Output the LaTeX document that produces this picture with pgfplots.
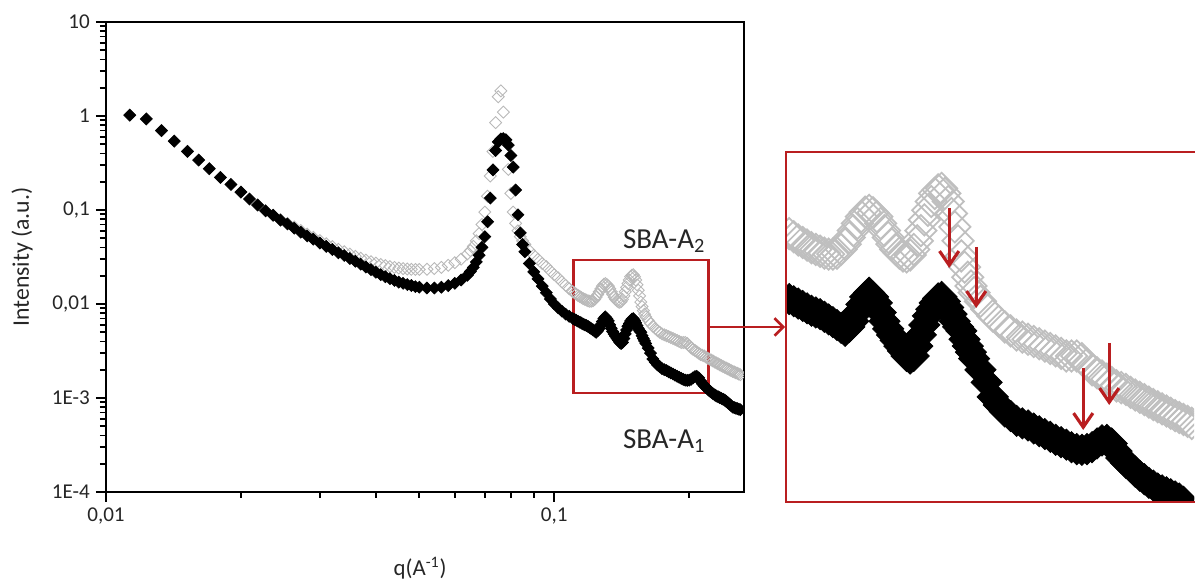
\documentclass[border=0pt]{standalone}
\usepackage{pgfplots}
\pgfplotsset{compat=1.18}
\usepackage{pgfplotstable}
\usetikzlibrary{arrows.meta}
\usepackage{fontspec}
\setmainfont{Carlito}
\definecolor{dred}{RGB}{185,30,32}

\pgfplotstableread{
q a1 a2
0.0113 1.02 1.02
0.0123 0.93 0.93
0.0133 0.70 0.70
0.0142 0.54 0.54
0.0152 0.42 0.42
0.0161 0.34 0.34
0.0170 0.275 0.275
0.0180 0.222 0.222
0.0190 0.187 0.187
0.0200 0.155 0.155
0.0209 0.131 0.131
0.0218 0.113 0.113
0.0227 0.098 0.098
0.0236 0.088 0.088
0.0245 0.078 0.079
0.0254 0.071 0.072
0.0263 0.064 0.066
0.0272 0.058 0.0605
0.0281 0.053 0.0555
0.0290 0.049 0.0512
0.0300 0.0445 0.0472
0.0310 0.041 0.0438
0.0320 0.038 0.0408
0.0330 0.035 0.0382
0.0340 0.0328 0.0360
0.0350 0.0305 0.0340
0.0360 0.0285 0.0322
0.0370 0.0265 0.0307
0.0380 0.0247 0.0293
0.0390 0.0232 0.0282
0.0400 0.0218 0.0272
0.0410 0.0205 0.0263
0.0420 0.0195 0.0256
0.0430 0.0186 0.0250
0.0440 0.0178 0.0245
0.0450 0.0171 0.0241
0.0460 0.0166 0.0238
0.0470 0.0161 0.0236
0.0480 0.0157 0.0234
0.0490 0.0153 0.0233
0.0500 0.0151 0.0233
0.0520 0.0148 0.0234
0.0540 0.0148 0.0238
0.0560 0.0151 0.0245
0.0580 0.0157 0.0258
0.0600 0.0166 0.0275
0.0620 0.0180 0.0300
0.0640 0.0202 0.0340
0.0650 0.0222 0.0370
0.0660 0.0245 0.0410
0.0670 0.0280 0.0470
0.0680 0.0330 0.0560
0.0690 0.0400 0.0700
0.0700 0.0520 0.0950
0.0710 0.0750 0.140
0.0720 0.134 0.230
0.0730 0.267 0.420
0.0740 0.430 0.850
0.0750 0.530 1.60
0.0760 0.570 1.85
0.0770 0.575 1.10
0.0780 0.560 0.550
0.0790 0.490 0.270
0.0800 0.380 0.150
0.0810 0.286 0.095
0.0820 0.163 0.072
0.0830 0.089 0.060
0.0840 0.057 0.052
0.0850 0.043 0.047
0.0860 0.036 0.043
0.0880 0.027 0.037
0.0900 0.0220 0.0330
0.0920 0.0185 0.0300
0.0940 0.0155 0.0270
0.0960 0.0132 0.0250
0.0980 0.0113 0.0225
0.1000 0.0100 0.0205
0.1020 0.0091 0.0190
0.1040 0.0084 0.0172
0.1060 0.0078 0.0158
0.1080 0.0074 0.0145
0.1100 0.0070 0.0135
0.1110 0.00685 0.0131
0.1120 0.0067 0.0127
0.1130 0.00655 0.0123
0.1140 0.0064 0.0120
0.1150 0.00625 0.0117
0.1160 0.0061 0.0114
0.1170 0.0060 0.0112
0.1180 0.0059 0.0110
0.1190 0.00575 0.0108
0.1200 0.0056 0.0107
0.1210 0.00545 0.0107
0.1220 0.0053 0.0108
0.1230 0.00515 0.0112
0.1240 0.0050 0.0118
0.1250 0.0052 0.0126
0.1260 0.0055 0.0135
0.1270 0.0060 0.0145
0.1280 0.0065 0.0155
0.1290 0.0070 0.0162
0.1300 0.0073 0.0165
0.1310 0.0070 0.0161
0.1320 0.0066 0.0155
0.1330 0.0060 0.0145
0.1340 0.0055 0.0135
0.1350 0.0051 0.0126
0.1360 0.0048 0.0118
0.1370 0.00455 0.0112
0.1380 0.0043 0.0108
0.1390 0.0041 0.0105
0.1400 0.0039 0.0104
0.1410 0.0038 0.0106
0.1420 0.0039 0.0112
0.1430 0.0043 0.0122
0.1440 0.0048 0.0135
0.1450 0.0053 0.0150
0.1460 0.0058 0.0165
0.1470 0.0062 0.0180
0.1480 0.0066 0.0195
0.1490 0.0069 0.0202
0.1500 0.0070 0.0205
0.1510 0.0067 0.0195
0.1520 0.0063 0.0180
0.1530 0.0059 0.0160
0.1540 0.0055 0.0140
0.1550 0.0052 0.0122
0.1560 0.0050 0.0105
0.1570 0.0046 0.0094
0.1580 0.0043 0.0085
0.1590 0.00405 0.0078
0.1600 0.0038 0.0073
0.1620 0.0034 0.0067
0.1640 0.0030 0.0062
0.1660 0.0026 0.0058
0.1680 0.0024 0.0055
0.1700 0.00225 0.0052
0.1720 0.00215 0.0050
0.1740 0.00205 0.0048
0.1760 0.0020 0.0047
0.1780 0.00196 0.0046
0.1800 0.0019 0.0045
0.1820 0.00185 0.0044
0.1840 0.0018 0.0043
0.1860 0.00175 0.0042
0.1880 0.0017 0.0041
0.1900 0.00166 0.0040
0.1920 0.00162 0.0039
0.1940 0.00158 0.0039
0.1960 0.00155 0.0039
0.1980 0.00154 0.0038
0.2000 0.00155 0.0036
0.2020 0.00158 0.0034
0.2040 0.00164 0.0033
0.2060 0.00169 0.0032
0.2080 0.00170 0.0031
0.2100 0.00164 0.0030
0.2120 0.00152 0.0029
0.2140 0.00142 0.00285
0.2160 0.00135 0.0028
0.2180 0.00130 0.00272
0.2200 0.00124 0.00265
0.2220 0.00119 0.00259
0.2240 0.00115 0.00253
0.2260 0.00111 0.00247
0.2280 0.00108 0.00241
0.2300 0.00105 0.00236
0.2320 0.00103 0.00231
0.2340 0.00101 0.00226
0.2360 0.00099 0.00221
0.2380 0.00097 0.00216
0.2400 0.00095 0.00212
0.2420 0.00092 0.00208
0.2440 0.00089 0.00204
0.2460 0.00086 0.00200
0.2480 0.00083 0.00196
0.2500 0.00080 0.00192
0.2520 0.00079 0.00189
0.2540 0.00078 0.00186
0.2560 0.00077 0.00183
0.2580 0.00076 0.00180
0.2600 0.00075 0.00177
}\datatab

\begin{document}
\begin{tikzpicture}
\useasboundingbox (0,0) rectangle (23.9cm,11.64cm);
% main axis
\begin{axis}[
  at={(2.12cm,1.8cm)}, anchor=south west,
  width=12.76cm, height=9.4cm, scale only axis,
  xmode=log, ymode=log,
  xmin=0.01, xmax=0.265, ymin=1e-4, ymax=10,
  clip marker paths=true,
  xtick={0.01,0.1}, xticklabels={{0,01},{0,1}},
  ytick={1e-4,1e-3,0.01,0.1,1,10},
  yticklabels={1E-4,1E-3,{0,01},{0,1},1,10},
  minor xtick={0.02,0.03,0.04,0.05,0.06,0.07,0.08,0.09,0.2},
  minor ytick={2e-4,3e-4,4e-4,5e-4,6e-4,7e-4,8e-4,9e-4,2e-3,3e-3,4e-3,5e-3,6e-3,7e-3,8e-3,9e-3,0.02,0.03,0.04,0.05,0.06,0.07,0.08,0.09,0.2,0.3,0.4,0.5,0.6,0.7,0.8,0.9,2,3,4,5,6,7,8,9},
  tick pos=left, tick align=outside,
  major tick length=0.2cm, minor tick length=0.12cm,
  axis line style={line width=1.3pt},
  every tick/.style={black, line width=1pt},
  /pgf/number format/assume math mode=true,
  ticklabel style={font=\fontsize{12}{14}\selectfont, text=black!85},
]
\draw[dred, line width=1.5pt] (axis cs:0.1103,0.00113) rectangle (axis cs:0.2208,0.0294);
\addplot[only marks, mark=square, mark size=2.4pt,
  mark options={rotate=45, draw=black!28, line width=0.5pt}] table[x=q,y=a2]{\datatab};
\addplot[only marks, mark=square*, mark size=2.4pt,
  mark options={rotate=45, draw=black, fill=black}] table[x=q,y=a1]{\datatab};
\end{axis}
% inset
\begin{axis}[
  at={(15.72cm,1.6cm)}, anchor=south west,
  width=8.16cm, height=7cm, scale only axis,
  xmode=log, ymode=log,
  xmin=0.1103, xmax=0.2471, ymin=0.000918, ymax=0.0294,
  clip marker paths=true,
  hide axis,
]
\addplot[only marks, mark=square, mark size=6.3pt,
  mark options={rotate=45, draw=black!25, line width=1pt}] table[x=q,y=a2]{\datatab};
\addplot[only marks, mark=square*, mark size=6.3pt,
  mark options={rotate=45, draw=black, fill=black}] table[x=q,y=a1]{\datatab};
\end{axis}
\begin{scope}[x=0.02cm,y=0.02cm]
\draw[dred, line width=1.5pt] (1196,80) -- (786,80) -- (786,430) -- (1196,430);
\draw[dred, line width=1.5pt, -{Straight Barb[length=5pt,width=10pt]}] (708,255) -- (785,255);
\draw[dred, line width=1.8pt, -{Straight Barb[length=8pt,width=11pt]}] (949,374) -- (949,314);
\draw[dred, line width=1.8pt, -{Straight Barb[length=8pt,width=11pt]}] (976,335) -- (976,274);
\draw[dred, line width=1.8pt, -{Straight Barb[length=8pt,width=11pt]}] (1083,214) -- (1083,152);
\draw[dred, line width=1.8pt, -{Straight Barb[length=8pt,width=11pt]}] (1109,239) -- (1109,177);
\node[font=\fontsize{16.5}{18}\selectfont, text=black!85] at (664,341) {SBA-A\textsubscript{2}};
\node[font=\fontsize{16.5}{18}\selectfont, text=black!85] at (664,141) {SBA-A\textsubscript{1}};
\node[font=\fontsize{13}{15}\selectfont, text=black!85] at (420,14) {q(A\textsuperscript{-1})};
\node[font=\fontsize{13.5}{15}\selectfont, text=black!85, rotate=90] at (22,325) {Intensity (a.u.)};
\end{scope}
\end{tikzpicture}
\end{document}
